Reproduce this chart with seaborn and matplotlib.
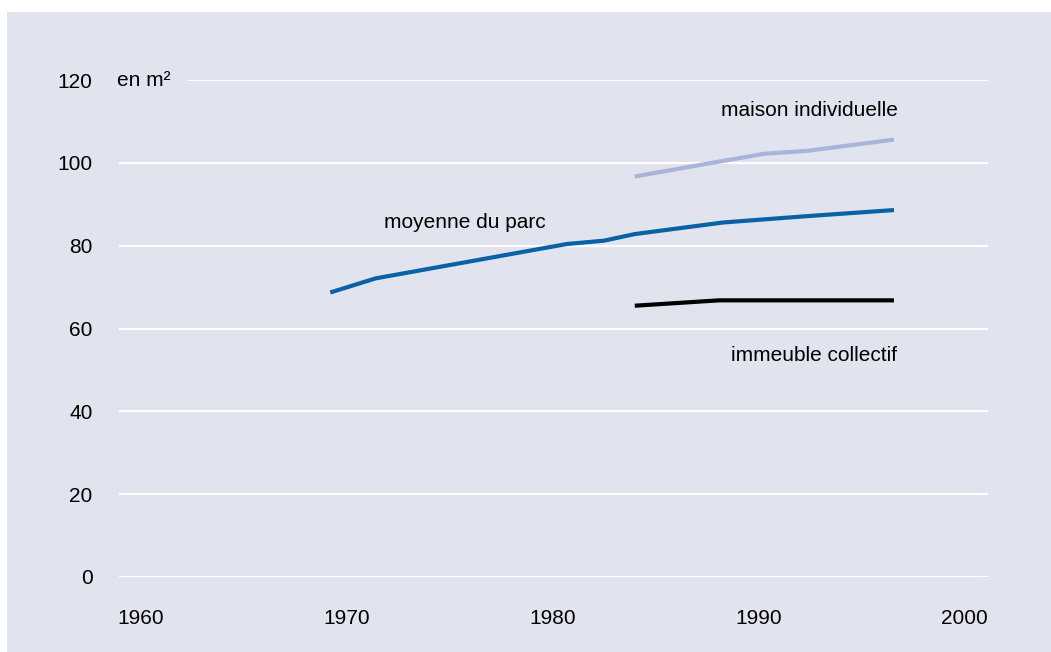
import pandas as pd
import seaborn as sns
import matplotlib.pyplot as plt
from matplotlib.patches import Rectangle

# Surface moyenne des logements (en m2)
parc_annees = [1969.2, 1971.4, 1980.7, 1982.5, 1984.0, 1988.3, 1992.3, 1996.6]
parc_valeurs = [68.7, 72.1, 80.4, 81.2, 82.8, 85.6, 87.1, 88.6]

maison_annees = [1984.0, 1988.1, 1990.3, 1992.4, 1996.6]
maison_valeurs = [96.7, 100.3, 102.2, 102.9, 105.6]

immeuble_annees = [1984.0, 1988.1, 1992.3, 1996.6]
immeuble_valeurs = [65.5, 66.8, 66.8, 66.8]

x_ticks = [1960, 1970, 1980, 1990, 2000]
y_ticks = [0, 20, 40, 60, 80, 100, 120]

bg = "#e1e4ef"
sns.set_theme(style="white")
plt.rcParams["font.family"] = ["Liberation Sans", "DejaVu Sans"]
plt.rcParams["text.color"] = "black"

fig = plt.figure(figsize=(10.51, 6.52), dpi=100)
fig.patch.set_facecolor("white")
# fond lavande du cadre
fig.patches.append(Rectangle((7 / 1051, 0), 1, 1 - 12 / 652, transform=fig.transFigure,
                             facecolor=bg, edgecolor="none", zorder=-10))

ax = fig.add_axes([119 / 1051, 75 / 652, 869 / 1051, 497 / 652])
ax.set_facecolor("none")

df = pd.concat([
    pd.DataFrame({"annee": parc_annees, "surface": parc_valeurs, "serie": "parc"}),
    pd.DataFrame({"annee": maison_annees, "surface": maison_valeurs, "serie": "maison"}),
    pd.DataFrame({"annee": immeuble_annees, "surface": immeuble_valeurs, "serie": "immeuble"}),
])
couleurs = {"parc": "#0862a4", "maison": "#aab4d8", "immeuble": "#000000"}

# lignes de grille blanches (la ligne 120 laisse la place à "en m²")
for v in y_ticks:
    xmin = 69 / 869 if v == 120 else 0
    ax.axhline(v, xmin=xmin, xmax=1, color="white", lw=1.5, zorder=1)

sns.lineplot(data=df, x="annee", y="surface", hue="serie", palette=couleurs,
             linewidth=3.0, legend=False, ax=ax, zorder=3, solid_capstyle="butt")

ax.set_xlim(1958.93, 2001.17)
ax.set_ylim(0, 120)
ax.set_xticks(x_ticks)
ax.set_yticks(y_ticks)
ax.tick_params(axis="x", length=0, pad=23, labelsize=15, colors="black")
ax.tick_params(axis="y", length=0, pad=19, labelsize=15, colors="black")
ax.set_xlabel("")
ax.set_ylabel("")
for s in ax.spines.values():
    s.set_visible(False)
ax.grid(False)

ax.text(-2 / 869, 120, "en m²", transform=ax.get_yaxis_transform(),
        fontsize=15, va="center", ha="left", color="black")
ax.text(1992.5, 112.6, "maison individuelle", fontsize=15, ha="center", va="center", color="black")
ax.text(1975.75, 85.7, "moyenne du parc", fontsize=15, ha="center", va="center", color="black")
ax.text(1992.7, 53.6, "immeuble collectif", fontsize=15, ha="center", va="center", color="black")

fig.savefig("out.png", dpi=100, facecolor=fig.get_facecolor())
